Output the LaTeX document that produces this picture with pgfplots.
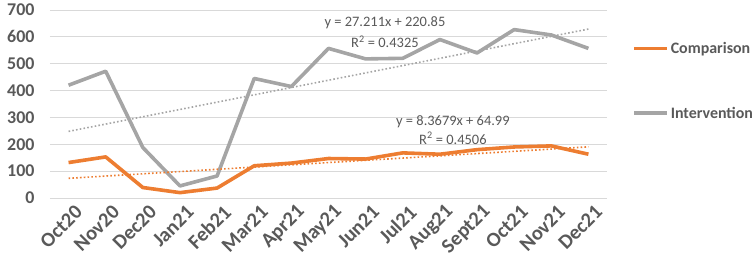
\documentclass[border=0pt]{standalone}
\usepackage{pgfplots}
\pgfplotsset{compat=1.18}
\usepackage{fontspec}
\setmainfont{Carlito}
\definecolor{cOrange}{HTML}{ED7D31}
\definecolor{cGray}{HTML}{A5A5A5}
\definecolor{cText}{HTML}{595959}
\definecolor{cGrid}{HTML}{D9D9D9}
\begin{document}
\begin{tikzpicture}
\path[use as bounding box] (-50bp,-66bp) rectangle (703bp,198bp);
\begin{axis}[
  at={(0,0)}, anchor=south west,
  scale only axis,
  width=557bp, height=188bp,
  xmin=-0.5, xmax=14.5,
  ymin=0, ymax=700,
  ytick={0,100,...,700},
  xtick={0,...,14},
  xticklabels={Oct20,Nov20,Dec20,Jan21,Feb21,Mar21,Apr21,May21,Jun21,Jul21,Aug21,Sept21,Oct21,Nov21,Dec21},
  axis line style={draw=none},
  major tick length=0pt,
  ymajorgrids,
  grid style={cGrid, line width=0.8bp},
  /pgf/number format/assume math mode=true,
  yticklabel style={font=\fontsize{18}{18}\selectfont\bfseries, text=cText, xshift=-12bp},
  xticklabel style={font=\fontsize{20.5}{20}\selectfont\bfseries, text=cText, rotate=45, anchor=east, yshift=-15bp, xshift=3bp},
  legend style={at={(rel axis cs:1,1)}, anchor=north west, xshift=25bp, yshift=-30bp,
    draw=none, fill=none, font=\fontsize{16}{18}\selectfont\bfseries, text=cText,
    row sep=48bp, inner sep=0pt, cells={anchor=west}},
  legend image code/.code={\draw[#1] (0bp,0bp) -- (33bp,0bp);},
  clip=false,
]
\addplot[cOrange, line width=3.6bp, line join=round] coordinates {
(0,132) (1,153) (2,39) (3,20) (4,37) (5,120) (6,130) (7,147) (8,145) (9,168) (10,163) (11,180) (12,190) (13,194) (14,163)};
\addlegendentry{Comparison}
\addplot[cGray, line width=3.6bp, line join=round] coordinates {
(0,420) (1,472) (2,188) (3,45) (4,82) (5,445) (6,415) (7,557) (8,518) (9,520) (10,590) (11,540) (12,627) (13,607) (14,557)};
\addlegendentry{Intervention}
\addplot[cOrange, line width=1.6bp, dash pattern=on 1.6bp off 2.2bp, forget plot] coordinates {(0,73.36) (14,190.51)};
\addplot[cGray, line width=1.6bp, dash pattern=on 1.6bp off 2.2bp, forget plot] coordinates {(0,248.06) (14,629.02)};
\node[font=\fontsize{14.5}{16}\selectfont, text=cText] at (axis cs:8.52,651) {y = 27.211x + 220.85};
\node[font=\fontsize{14.5}{16}\selectfont, text=cText] at (axis cs:8.52,583) {R\textsuperscript{2} = 0.4325};
\node[font=\fontsize{14.5}{16}\selectfont, text=cText] at (axis cs:10.35,284) {y = 8.3679x + 64.99};
\node[font=\fontsize{14.5}{16}\selectfont, text=cText] at (axis cs:10.35,222) {R\textsuperscript{2} = 0.4506};
\end{axis}
\end{tikzpicture}
\end{document}
